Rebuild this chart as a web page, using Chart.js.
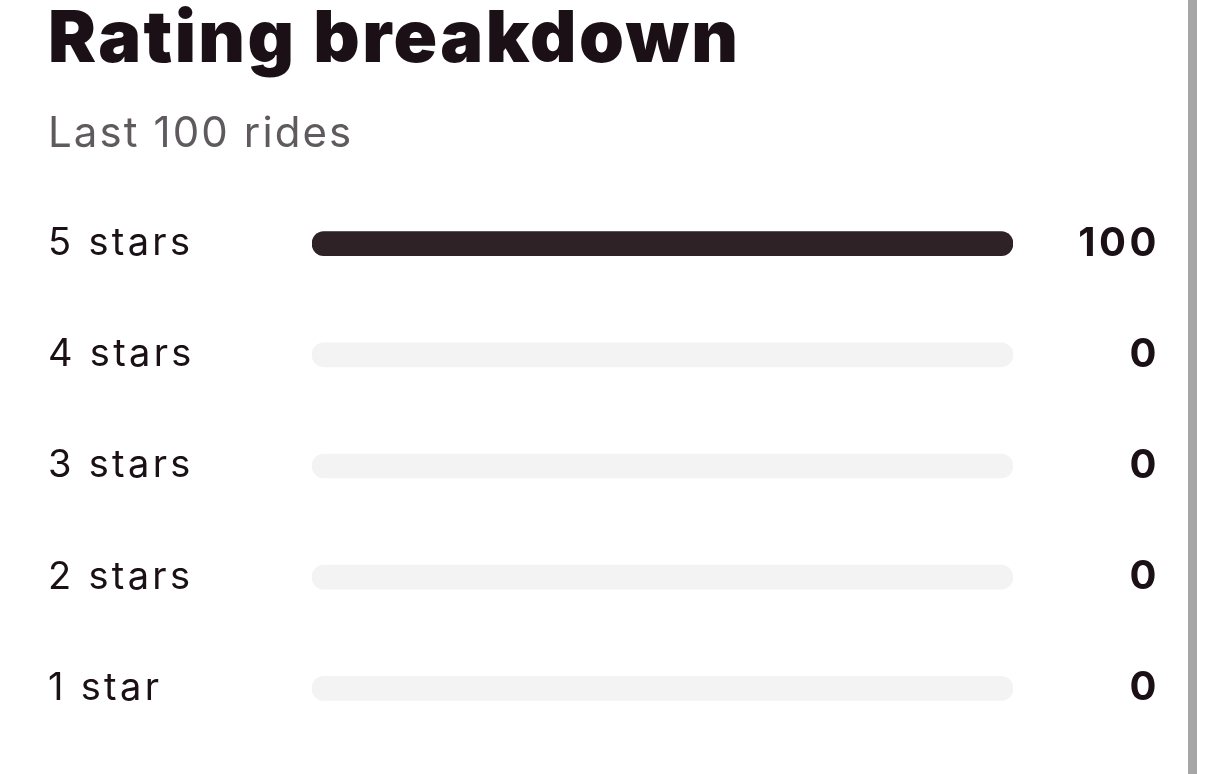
<!DOCTYPE html>
<html>
<head>
<meta charset="utf-8">
<script src="https://cdn.jsdelivr.net/npm/chart.js@4.4.1/dist/chart.umd.min.js"></script>
<style>
  html, body { margin: 0; padding: 0; background: #fff; }
  body { width: 1206px; height: 774px; overflow: hidden; }
  #wrap { position: absolute; left: 0; top: 0; width: 1188px; height: 774px; border-right: 9px solid #a6a6a6; box-sizing: content-box; }
  canvas { display: block; }
</style>
</head>
<body>
<div id="wrap"><canvas id="c" width="1188" height="774"></canvas></div>
<script>
const titleText = "Rating breakdown";
const subtitleText = "Last 100 rides";
const categories = ["5 stars", "4 stars", "3 stars", "2 stars", "1 star"];
const counts = [100, 0, 0, 0, 0];
const totalRides = 100;
const trackValues = [100, 100, 100, 100, 100];
const valueLabels = counts.map(String);

const FONT = "Inter, 'Noto Sans', sans-serif";
const DARK = '#2e2226';
const TEXT = '#1a1015';

// Applies canvas letter spacing to selected text-drawing parts (styling only)
const spacingPlugin = {
  id: 'spacing',
  afterUpdate(chart) {
    const ctx = chart.ctx;
    const wrap = (obj, fnName, ls) => {
      if (!obj || obj['__ls_' + fnName]) return;
      const orig = obj[fnName].bind(obj);
      obj[fnName] = function (...a) {
        const prev = ctx.letterSpacing;
        ctx.letterSpacing = ls;
        const r = orig(...a);
        ctx.letterSpacing = prev;
        return r;
      };
      obj['__ls_' + fnName] = true;
    };
    chart.boxes.forEach(b => {
      if (b.options && b.options.text === titleText) wrap(b, 'draw', '2.4px');
      else if (b.options && b.options.text === subtitleText) wrap(b, 'draw', '2.1px');
    });
    wrap(chart.scales.y, 'drawLabels', '3.3px');
    wrap(chart.scales.y2, 'drawLabels', '3.5px');
  }
};

new Chart(document.getElementById('c'), {
  type: 'bar',
  data: {
    labels: categories,
    datasets: [
      {
        label: 'Rides',
        data: counts,
        backgroundColor: (c) => (c.raw > 0 ? DARK : 'rgba(0,0,0,0)'),
        borderRadius: 12,
        borderSkipped: false,
        barThickness: 24,
        grouped: false,
        order: 0,
        yAxisID: 'y'
      },
      {
        label: 'Track',
        data: trackValues,
        backgroundColor: '#f3f3f3',
        borderRadius: 12,
        borderSkipped: false,
        barThickness: 24,
        grouped: false,
        order: 1,
        yAxisID: 'y'
      }
    ]
  },
  plugins: [spacingPlugin],
  options: {
    indexAxis: 'y',
    responsive: false,
    animation: false,
    layout: { padding: { left: 48, right: 28, top: 0, bottom: 30 } },
    plugins: {
      legend: { display: false },
      tooltip: { enabled: false },
      title: {
        display: true,
        text: titleText,
        align: 'start',
        color: TEXT,
        font: { family: FONT, size: 72, weight: '900', lineHeight: 1 },
        padding: { top: 4, bottom: 0 }
      },
      subtitle: {
        display: true,
        text: subtitleText,
        align: 'start',
        color: '#5f5a5e',
        font: { family: FONT, size: 42, weight: '400', lineHeight: 1 },
        padding: { top: 37, bottom: 33 }
      }
    },
    scales: {
      x: {
        display: false,
        min: 0,
        max: totalRides
      },
      y: {
        type: 'category',
        position: 'left',
        grid: { display: false },
        border: { display: false },
        ticks: {
          crossAlign: 'far',
          color: TEXT,
          padding: 0,
          font: { family: FONT, size: 38, weight: '400' }
        },
        afterFit: (s) => { s.width = 264; }
      },
      y2: {
        type: 'category',
        position: 'right',
        labels: valueLabels,
        offset: true,
        grid: { display: false },
        border: { display: false },
        ticks: {
          crossAlign: 'far',
          color: TEXT,
          padding: 0,
          font: { family: FONT, size: 40, weight: '700' }
        },
        afterFit: (s) => { s.width = 147; }
      }
    }
  }
});
</script>
</body>
</html>
